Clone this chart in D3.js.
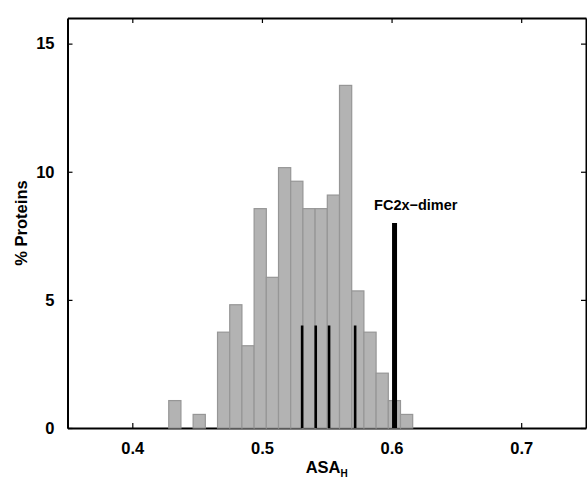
<!DOCTYPE html>
<html>
<head>
<meta charset="utf-8">
<script src="https://d3js.org/d3.v7.min.js"></script>
<style>
body { margin: 0; background: #fff; }
text { font-family: "Liberation Sans", Arial, sans-serif; font-weight: bold; }
</style>
</head>
<body>
<div id="chart"></div>
<script>
// histogram bins (left edge of first bin, bin width) and % of proteins per bin
const binStart = 0.4281;
const binWidth = 0.00941;
const percents = [1.07, 0, 0.53, 0, 3.74, 4.81, 3.21, 8.56, 5.88, 10.16,
                  9.63, 8.56, 8.56, 9.09, 13.37, 5.35, 3.74, 2.14, 1.07, 0.53];

// marker lines (x position, height)
const markerX = [0.531, 0.5415, 0.5518, 0.5719];
const markerH = [4, 4, 4, 4];
const dimerX = 0.6023;
const dimerH = 8;
const dimerLabel = 'FC2x\u2212dimer';

const xTicks = [0.4, 0.5, 0.6, 0.7];
const yTicks = [0, 5, 10, 15];

const W = 587, H = 480;
const margin = {left: 67.5, top: 18, right: 1, bottom: 52};
const w = W - margin.left - margin.right;
const h = H - margin.top - margin.bottom;

const svg = d3.select('#chart').append('svg')
    .attr('width', W)
    .attr('height', H);

const g = svg.append('g')
    .attr('transform', 'translate(' + margin.left + ',' + margin.top + ')');

const xScale = d3.scaleLinear().domain([0.35, 0.75]).range([0, w]);
const yScale = d3.scaleLinear().domain([0, 16]).range([h, 0]);

// box with inward ticks on every side
const tickLen = 5;
g.append('g').attr('transform', 'translate(0,' + h + ')')
    .call(d3.axisBottom(xScale).tickValues(xTicks).tickFormat(d3.format('.1f'))
        .tickSizeInner(-tickLen).tickSizeOuter(0).tickPadding(14))
    .attr('id', 'x-axis');
g.append('g')
    .call(d3.axisTop(xScale).tickValues(xTicks).tickFormat('')
        .tickSizeInner(-tickLen).tickSizeOuter(0));
g.append('g')
    .call(d3.axisLeft(yScale).tickValues(yTicks)
        .tickSizeInner(-tickLen).tickSizeOuter(0).tickPadding(13))
    .attr('id', 'y-axis');
g.append('g').attr('transform', 'translate(' + w + ',0)')
    .call(d3.axisRight(yScale).tickValues(yTicks).tickFormat('')
        .tickSizeInner(-tickLen).tickSizeOuter(0));

g.selectAll('.domain').attr('stroke', '#000').attr('stroke-width', 2);
g.selectAll('.tick line').attr('stroke', '#000').attr('stroke-width', 1.2);
g.selectAll('.tick text').attr('fill', '#000').style('font-size', '16.5px');

// bars
g.selectAll('rect.bar')
    .data(percents)
    .enter()
    .append('rect')
    .attr('class', 'bar')
    .attr('x', (d, i) => xScale(binStart + i * binWidth))
    .attr('y', d => yScale(d))
    .attr('width', xScale(binStart + binWidth) - xScale(binStart))
    .attr('height', d => h - yScale(d))
    .attr('fill', '#b3b3b3')
    .attr('stroke', '#969696')
    .attr('stroke-width', 1.2);

// marker lines
g.selectAll('line.marker')
    .data(markerX)
    .enter()
    .append('line')
    .attr('class', 'marker')
    .attr('x1', d => xScale(d))
    .attr('x2', d => xScale(d))
    .attr('y1', yScale(0))
    .attr('y2', (d, i) => yScale(markerH[i]))
    .attr('stroke', '#000')
    .attr('stroke-width', 2.6);

g.append('line')
    .attr('x1', xScale(dimerX))
    .attr('x2', xScale(dimerX))
    .attr('y1', yScale(0))
    .attr('y2', yScale(dimerH))
    .attr('stroke', '#000')
    .attr('stroke-width', 5);

g.append('text')
    .attr('x', xScale(0.5865))
    .attr('y', yScale(8.5))
    .style('font-size', '14.5px')
    .text(dimerLabel);

// axis labels
const xl = svg.append('text')
    .attr('x', margin.left + w / 2)
    .attr('y', 473)
    .attr('text-anchor', 'middle')
    .style('font-size', '16.5px');
xl.append('tspan').text('ASA');
xl.append('tspan').attr('dy', 4).style('font-size', '10px').text('H');

svg.append('text')
    .attr('transform', 'translate(27,' + (margin.top + h / 2) + ') rotate(-90)')
    .attr('text-anchor', 'middle')
    .style('font-size', '16.5px')
    .text('% Proteins');
</script>
</body>
</html>
